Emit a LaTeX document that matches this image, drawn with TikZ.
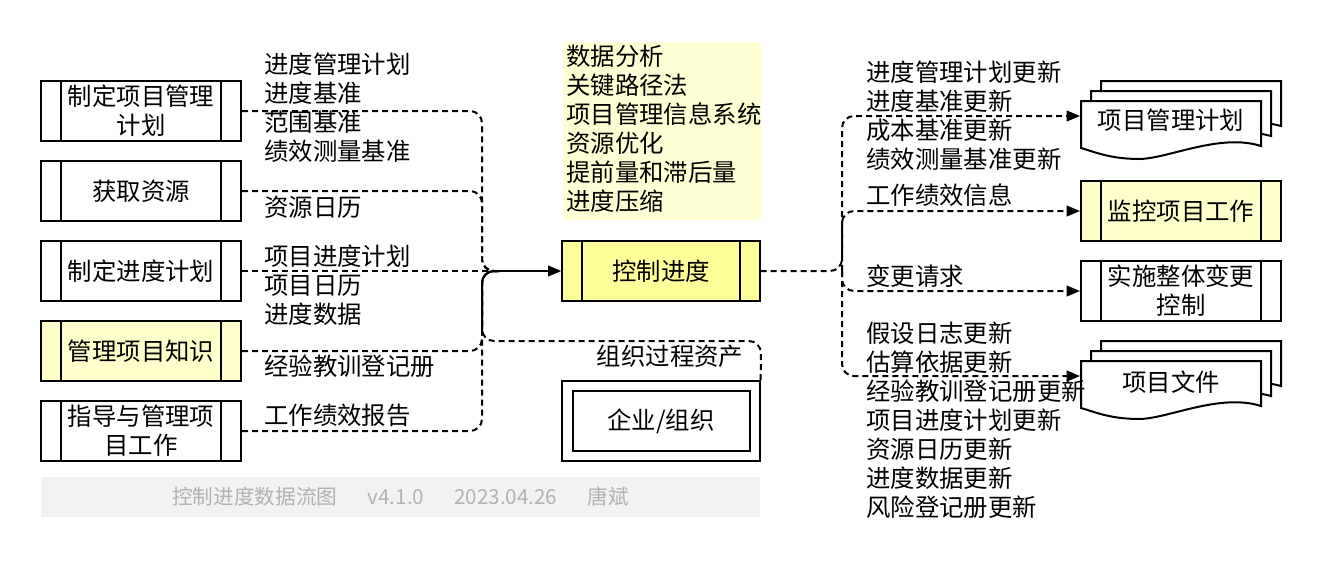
\documentclass[tikz,border=0pt]{standalone}
\usepackage{fontspec}
\setmainfont{Noto Sans CJK SC}
\usetikzlibrary{arrows.meta}
\definecolor{ylo}{HTML}{FFFF99}
\definecolor{lyl}{HTML}{FFFFCC}
\definecolor{tyl}{HTML}{FFFFD6}
\begin{document}
\begin{tikzpicture}[x=0.75pt,y=-0.75pt,
  every node/.style={font=\fontsize{18.3pt}{21.75pt}\selectfont, inner sep=0pt},
  proc/.style={draw, line width=1.5pt, minimum width=150pt, minimum height=45pt, align=center,
    path picture={\draw[line width=1.5pt] ([xshift=15pt]path picture bounding box.north west) -- ([xshift=15pt]path picture bounding box.south west);
      \draw[line width=1.5pt] ([xshift=-15pt]path picture bounding box.north east) -- ([xshift=-15pt]path picture bounding box.south east);}},
  lbl/.style={anchor=west, align=left},
  dl/.style={line width=1.5pt, dash pattern=on 4.5pt off 3pt, rounded corners=9pt},
  sl/.style={line width=1.5pt, rounded corners=9pt},
  arr/.style={-{Triangle[length=10pt,width=8pt]}},
  doc/.style={draw, line width=1.5pt, fill=white}]
\useasboundingbox (0,0) rectangle (1322,562);
% left processes
\node[proc] (b1) at (141,111) {制定项目管理\\计划};
\node[proc] (b2) at (141,191) {获取资源};
\node[proc] (b3) at (141,271) {制定进度计划};
\node[proc, fill=lyl] (b4) at (141,351) {管理项目知识};
\node[proc] (b5) at (141,431) {指导与管理项\\目工作};
% left labels
\node[lbl] (l1) at (264,108) {进度管理计划\\进度基准\\范围基准\\绩效测量基准};
\node[lbl] (l2) at (264,207) {资源日历};
\node[lbl] (l3) at (264,285) {项目进度计划\\项目日历\\进度数据};
\node[lbl] (l4) at (264,366) {经验教训登记册};
\node[lbl] (l5) at (264,415) {工作绩效报告};
% tools
\node[fill=tyl, minimum width=149pt, minimum height=133.5pt] (tools) at (662,131) {};
\node[lbl] (tt) at (566,129) {数据分析\\关键路径法\\项目管理信息系统\\资源优化\\提前量和滞后量\\进度压缩};
% center
\node[proc, fill=ylo, minimum width=148pt] (c) at (661,271) {控制进度};
% OPA
\node (opal) at (670,356) {组织过程资产};
\node[draw, line width=1.5pt, minimum width=148pt, minimum height=60pt] (opa) at (661,421) {};
\node[draw, line width=1.5pt, minimum width=132.75pt, minimum height=45pt] (opai) at (661,421) {企业/组织};
\coordinate (j) at (500,271);
% left connectors
\draw[dl] (b1.east) -- (482,111) -- (482,271) -- (j);
\draw[dl] (b2.east) -- (482,191) -- (482,271) -- (j);
\draw[dl] (b3.east) -- (j);
\draw[dl] (b4.east) -- (482,351) -- (482,271) -- (j);
\draw[dl] (b5.east) -- (482,431) -- (482,271) -- (j);
\draw[dl] (opa.north east) -- (761,341) -- (482,341) -- (482,271) -- (j);
\draw[sl] (482,330) -- (482,271) -- (j);
\draw[line width=1.5pt, arr] (j) -- (c.west);
% right targets
\foreach \o in {20,10}{
  \draw[doc] (1081+\o,101-\o) -- (1261+\o,101-\o) -- (1261+\o,146-\o) .. controls (1220+\o,135-\o) and (1180+\o,148-\o) .. (1160+\o,153-\o) -- (1150+\o,153-\o) -- (1081+\o,146-\o) -- cycle;}
\draw[doc] (1081,101) -- (1261,101) -- (1261,146) .. controls (1220,133) and (1170,158) .. (1140,159) .. controls (1110,159) and (1095,152) .. (1081,148) -- cycle;
\node[minimum width=135pt] (pmp) at (1171,120) {项目管理计划};
\node[proc, fill=lyl] (mon) at (1181,211) {监控项目工作};
\node[proc] (icc) at (1181,291) {实施整体变更\\控制};
\foreach \o in {20,10}{
  \draw[doc] (1081+\o,361-\o) -- (1261+\o,361-\o) -- (1261+\o,406-\o) .. controls (1220+\o,395-\o) and (1180+\o,408-\o) .. (1160+\o,413-\o) -- (1150+\o,413-\o) -- (1081+\o,406-\o) -- cycle;}
\draw[doc] (1081,361) -- (1261,361) -- (1261,406) .. controls (1220,393) and (1170,418) .. (1140,419) .. controls (1110,419) and (1095,412) .. (1081,408) -- cycle;
\node[minimum width=135pt] (pd) at (1171,382) {项目文件};
% right connectors
\coordinate (k) at (842,271);
\draw[dl, arr] (c.east) -- (842,271) -- (842,116) -- (1080,116);
\draw[dl, arr] (842,271) -- (842,211) -- (mon.west);
\draw[dl, arr] (842,271) -- (842,291) -- (icc.west);
\draw[dl, arr] (842,271) -- (842,376) -- (1080,376);
% right labels
\node[lbl] (r1) at (866,116) {进度管理计划更新\\进度基准更新\\成本基准更新\\绩效测量基准更新};
\node[lbl] (r2) at (866,195) {工作绩效信息};
\node[lbl] (r3) at (866,276) {变更请求};
\node[lbl] (r4) at (866,420) {假设日志更新\\估算依据更新\\经验教训登记册更新\\项目进度计划更新\\资源日历更新\\进度数据更新\\风险登记册更新};
% footer
\node[fill=black!5, minimum width=539pt, minimum height=30pt, text=black!30, font=\fontsize{15.5pt}{17pt}\selectfont] (foot) at (400.5,497) {控制进度数据流图\quad\ \ v4.1.0\quad\ \ 2023.04.26\quad\ \ 唐斌};
\end{tikzpicture}
\end{document}
